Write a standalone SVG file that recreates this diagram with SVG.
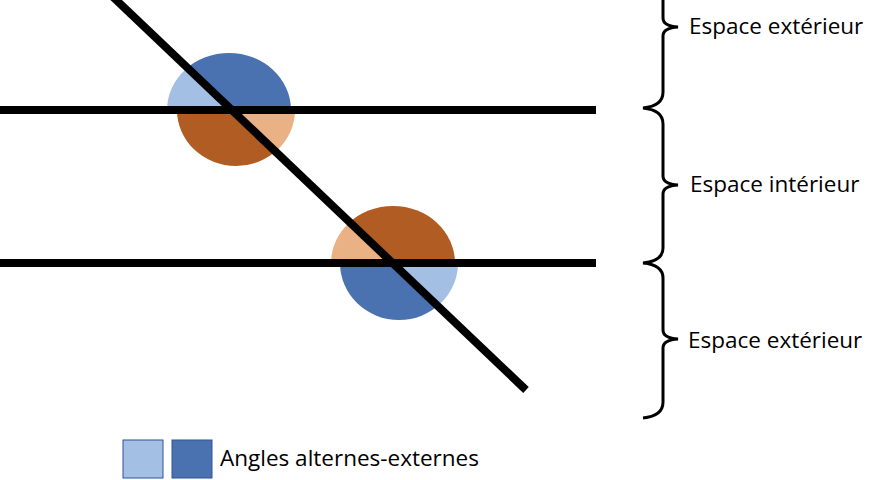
<svg xmlns="http://www.w3.org/2000/svg" width="880" height="480" viewBox="0 0 880 480">
<style>
.lb{fill:#a3bfe4}.db{fill:#4a72b0}.do{fill:#b05c22}.lo{fill:#e9b184}
.ln{stroke:#000;stroke-width:8;fill:none}
.br{stroke:#000;stroke-width:3;fill:none}
text{font-family:"Open Sans","Liberation Sans",sans-serif;font-size:22.5px;fill:#000}
</style>
<defs>
<clipPath id="L"><polygon points="0,-10 105.4,-10 627,480 0,480"/></clipPath>
<clipPath id="R"><polygon points="105.4,-10 880,-10 880,480 627,480"/></clipPath>
</defs>
<g id="angles1">
<path class="lb" clip-path="url(#L)" d="M167,110 A62,57 0 0 1 291,110 Z"/>
<path class="db" clip-path="url(#R)" d="M167,110 A62,57 0 0 1 291,110 Z"/>
<path class="do" clip-path="url(#L)" d="M177,110 A59,56 0 0 0 295,110 Z"/>
<path class="lo" clip-path="url(#R)" d="M177,110 A59,56 0 0 0 295,110 Z"/>
</g>
<g id="angles2">
<path class="lo" clip-path="url(#L)" d="M331,263 A62,57 0 0 1 455,263 Z"/>
<path class="do" clip-path="url(#R)" d="M331,263 A62,57 0 0 1 455,263 Z"/>
<path class="db" clip-path="url(#L)" d="M340,263 A59,57 0 0 0 458,263 Z"/>
<path class="lb" clip-path="url(#R)" d="M340,263 A59,57 0 0 0 458,263 Z"/>
</g>
<g id="lines">
<line class="ln" x1="0" y1="110" x2="596" y2="110"/>
<line class="ln" x1="0" y1="263" x2="596" y2="263"/>
<line class="ln" x1="112" y1="-4" x2="526" y2="390"/>
</g>
<g id="braces">
<path class="br" d="M663,-10 L663,18 Q663,26 678,27 Q663,28 663,36 L663,92 Q663,106 643,108 Q663,110 663,124 L663,176 Q663,184 678,185 Q663,186 663,194 L663,248 Q663,261 643,263 Q663,265 663,278 L663,330 Q663,338 678,339 Q663,340 663,348 L663,402 Q663,416 643,418"/>
</g>
<g id="labels">
<text x="689" y="34">Espace extérieur</text>
<text x="690" y="192">Espace intérieur</text>
<text x="688" y="348">Espace extérieur</text>
</g>
<g id="legend">
<rect x="123" y="440" width="40" height="38" class="lb" stroke="#2f5597" stroke-width="1"/>
<rect x="172" y="440" width="40" height="38" class="db" stroke="#2f5597" stroke-width="1"/>
<text x="220" y="466">Angles alternes-externes</text>
</g>
</svg>
